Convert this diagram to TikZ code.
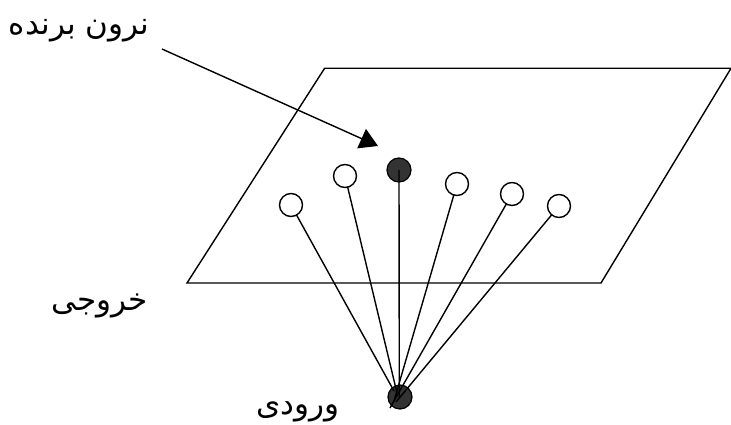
\documentclass[tikz,border=0pt]{standalone}
\usepackage{fontspec}
\newfontfamily\arabicfont[Script=Arabic]{DejaVu Sans}
\TeXXeTstate=1
\usetikzlibrary{arrows.meta}
\definecolor{darkfill}{HTML}{333333}
\tikzset{
  edge/.style={line width=1.4pt, black},
  neuron/.style={circle, draw=black, line width=1.4pt, fill=white, inner sep=0pt, minimum size=23pt},
  winner/.style={circle, draw=black, line width=1.2pt, fill=darkfill, inner sep=0pt, minimum size=24pt},
  txtlabel/.style={font=\arabicfont\fontsize{31}{36}\selectfont, inner sep=0pt}
}
\begin{document}
\begin{tikzpicture}[x=1pt,y=-1pt]
\useasboundingbox (0,0) rectangle (731,425);
% plane
\draw[edge, line join=miter] (324.6,68.3) -- (731,68.3) -- (601,283) -- (187,283) -- cycle;
% winner and input (dark)
\node[winner] (c3) at (399,170) {};
\node[winner] (in) at (400,397) {};
% end points of fan lines near the input
\coordinate (e1) at (394,391);
\coordinate (e2) at (397,393);
\coordinate (e3) at (399.3,398);
\coordinate (e4) at (394,401);
\coordinate (e5) at (390,408);
\coordinate (e6) at (396,402);
% white neurons positions (drawn later)
\coordinate (p1) at (291,205);
\coordinate (p2) at (345,176);
\coordinate (p4) at (457,184);
\coordinate (p5) at (512,194);
\coordinate (p6) at (559,206);
\draw[edge] (p1) -- (e1);
\draw[edge] (p2) -- (e2);
\draw[edge] (c3.center) -- (e3);
\draw[edge] (p4) -- (e4);
\draw[edge] (p5) -- (e5);
\draw[edge] (p6) -- (e6);
\node[neuron] (c1) at (p1) {};
\node[neuron] (c2) at (p2) {};
\node[neuron] (c4) at (p4) {};
\node[neuron] (c5) at (p5) {};
\node[neuron] (c6) at (p6) {};
% labels
\node[txtlabel] (win) at (79,31) {\beginR نرون برنده\endR};
\node[txtlabel] (out) at (100,306) {\beginR خروجی\endR};
\node[txtlabel] (inp) at (298,412) {\beginR ورودی\endR};
% arrow
\coordinate (as) at (162,49);
\coordinate (at) at (378,146);
\draw[edge, -{Triangle[length=18pt, width=21pt]}] (as) -- (at);
\end{tikzpicture}
\end{document}
